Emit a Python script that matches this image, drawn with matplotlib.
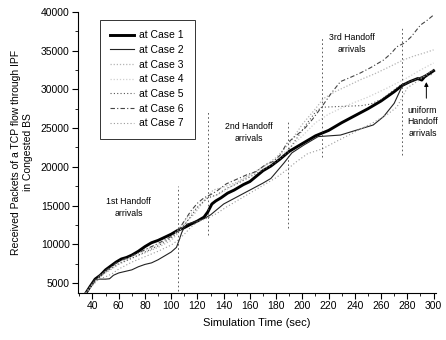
import numpy as np
import matplotlib
matplotlib.use('Agg')
import matplotlib.pyplot as plt
from matplotlib.ticker import MultipleLocator

plt.rcParams['font.family'] = ['Liberation Sans', 'DejaVu Sans']

# Simulation time (sec) / received packets
t1 = [35, 38, 42, 46, 50, 54, 58, 62, 66, 70, 75, 80, 85, 90, 95, 100, 105, 110, 115, 120,
      125, 128, 131, 134, 138, 143, 148, 155, 160, 165, 170, 176, 183, 190, 200, 210, 220,
      230, 240, 250, 260, 270, 276, 282, 288, 291, 293, 296, 300]
v1 = [3700, 4500, 5500, 6000, 6700, 7200, 7700, 8100, 8300, 8600, 9100, 9700, 10200, 10500,
      10900, 11300, 11800, 12150, 12600, 13000, 13500, 14200, 15200, 15600, 16000, 16600,
      17000, 17700, 18100, 18800, 19500, 20100, 21000, 22000, 23000, 24000, 24700, 25700,
      26600, 27500, 28500, 29700, 30500, 31000, 31400, 31200, 31600, 31950, 32400]

t2 = [35, 38, 42, 46, 50, 53, 56, 60, 65, 70, 75, 80, 85, 90, 95, 100, 104, 106, 108, 110,
      112, 116, 120, 125, 130, 135, 140, 150, 160, 170, 176, 186, 192, 201, 212, 229, 254,
      262, 270, 276, 282, 288, 292, 295, 298, 300]
v2 = [3700, 4500, 5500, 5500, 5500, 5550, 6000, 6300, 6500, 6700, 7100, 7400, 7600, 8000,
      8500, 9000, 9600, 10500, 11500, 12200, 12600, 12800, 13000, 13300, 13800, 14500, 15200,
      16100, 17000, 17900, 18500, 20500, 21800, 22800, 23900, 24100, 25400, 26500, 28200,
      30400, 31000, 31400, 31700, 31950, 32250, 32450]

t3 = [35, 40, 45, 50, 60, 70, 80, 90, 100, 105, 110, 118, 125, 132, 140, 150, 160, 170, 180,
      190, 200, 210, 216, 225, 235, 245, 255, 265, 277, 285, 293, 300]
v3 = [3700, 4900, 5700, 6300, 7400, 8200, 8900, 9600, 10500, 11400, 12600, 14000, 15600,
      17000, 17400, 18000, 19000, 20000, 21200, 23000, 25500, 27500, 28800, 29700, 30500,
      31300, 32000, 32800, 33800, 34300, 34700, 35100]

t4 = [35, 40, 45, 50, 60, 70, 80, 90, 100, 105, 110, 118, 126, 134, 142, 150, 160, 170, 180,
      190, 200, 210, 220, 235, 250, 265, 280, 290, 300]
v4 = [3700, 4800, 5700, 6500, 7600, 8400, 9200, 9900, 10900, 11800, 13000, 14500, 15800,
      16300, 17000, 17900, 18900, 19900, 21000, 22400, 24000, 25700, 26800, 28000, 29000,
      30200, 31500, 32500, 33400]

t5 = [35, 40, 45, 50, 60, 70, 80, 90, 100, 105, 110, 115, 120, 128, 135, 142, 150, 160, 170,
      180, 188, 195, 203, 211, 216, 230, 245, 252, 260, 268, 275, 282, 290, 296, 300]
v5 = [3700, 4900, 5800, 6400, 7500, 8200, 9000, 9800, 10800, 11600, 12500, 13600, 14800,
      16000, 16400, 17200, 17800, 18700, 19600, 20600, 21800, 23500, 25500, 27300, 27700,
      27800, 27900, 28100, 28700, 29700, 30600, 31000, 31500, 31800, 32000]

t6 = [35, 40, 45, 50, 60, 70, 80, 90, 100, 105, 110, 115, 120, 125, 130, 135, 142, 150, 158,
      165, 172, 178, 183, 188, 195, 202, 208, 215, 222, 229, 236, 244, 252, 262, 268, 272,
      278, 283, 290, 295, 300]
v6 = [3700, 4800, 5900, 6600, 7800, 8500, 9300, 10100, 11000, 11700, 13000, 14300, 15300,
      16000, 16400, 16900, 17800, 18400, 19000, 19400, 20300, 20700, 21500, 23000, 24000,
      25000, 26200, 27800, 29500, 31000, 31500, 32100, 32800, 33800, 34700, 35500, 36000,
      36800, 38300, 38900, 39600]

t7 = [35, 40, 45, 50, 55, 60, 70, 80, 90, 100, 105, 110, 115, 120, 128, 135, 142, 150, 160,
      170, 180, 188, 195, 204, 215, 225, 240, 255, 265, 272, 280, 290, 300]
v7 = [3700, 4700, 5500, 5800, 6200, 6800, 7700, 8400, 9100, 9900, 10500, 11300, 12200,
      12900, 13400, 14000, 14800, 15600, 16600, 17600, 18600, 19600, 20600, 21700, 22300,
      23200, 24500, 25800, 26800, 27700, 30200, 31300, 32600]

labels = ['at Case 1', 'at Case 2', 'at Case 3', 'at Case 4', 'at Case 5', 'at Case 6', 'at Case 7']

# handoff markers
handoff_t = [105, 128, 189, 215, 276]
handoff_lo = [4000, 11200, 12100, 21300, 21500]
handoff_hi = [17500, 27100, 26100, 36800, 38000]

fig = plt.figure(figsize=(4.46, 3.40), dpi=100)
ax = fig.add_axes([0.175, 0.138, 0.803, 0.827])

ax.plot(t1, v1, color='black', lw=2.1, label=labels[0])
ax.plot(t2, v2, color='#222222', lw=0.8, label=labels[1])
ax.plot(t3, v3, color='#b5b5b5', lw=0.9, ls=(0, (1, 1.5)), label=labels[2])
ax.plot(t4, v4, color='#d0d0d0', lw=0.9, ls=(0, (1, 1.5)), label=labels[3])
ax.plot(t5, v5, color='#555555', lw=0.8, ls=(0, (1, 2)), label=labels[4])
ax.plot(t6, v6, color='#444444', lw=0.8, ls=(0, (4, 2, 1, 2)), label=labels[5])
ax.plot(t7, v7, color='#999999', lw=0.8, ls=(0, (1, 2)), label=labels[6])

ax.vlines(handoff_t, handoff_lo, handoff_hi, colors='#444444', lw=0.6, linestyles=(0, (2, 3)))

fs = 6.3
ax.text(67.5, 14700, '1st Handoff\narrivals', ha='center', va='center', fontsize=fs, linespacing=1.4)
ax.text(159, 24400, '2nd Handoff\narrivals', ha='center', va='center', fontsize=fs, linespacing=1.4)
ax.text(238, 35900, '3rd Handoff\narrivals', ha='center', va='center', fontsize=fs, linespacing=1.4)
ax.text(291.5, 25800, 'uniform\nHandoff\narrivals', ha='center', va='center', fontsize=fs, linespacing=1.4)
ax.annotate('', xy=(294.5, 31300), xytext=(294.5, 28500),
            arrowprops=dict(arrowstyle='-|>', color='black', lw=0.7, mutation_scale=6))

ax.set_xlim(29, 302)
ax.set_ylim(3700, 40000)
ax.xaxis.set_major_locator(MultipleLocator(20))
ax.xaxis.set_minor_locator(MultipleLocator(10))
ax.yaxis.set_major_locator(MultipleLocator(5000))
ax.yaxis.set_minor_locator(MultipleLocator(2500))
ax.tick_params(which='major', direction='out', length=4, width=0.8, labelsize=7.5, pad=2)
ax.tick_params(which='minor', direction='out', length=2, width=0.6)
ax.spines['top'].set_visible(False)
ax.spines['right'].set_visible(False)

ax.set_xlabel('Simulation Time (sec)', fontsize=8, labelpad=5)
ax.set_ylabel('Received Packets of a TCP flow through IPF\nin Congested BS', fontsize=7.5,
              labelpad=6)

leg = ax.legend(loc='upper left', bbox_to_anchor=(0.061, 0.972), borderaxespad=0,
                fontsize=7.5, handlelength=2.3, labelspacing=0.45, borderpad=1.0,
                handletextpad=0.5, fancybox=False, framealpha=1)
leg.get_frame().set_edgecolor('#333333')
leg.get_frame().set_linewidth(0.7)

fig.savefig('out.png', dpi=100)
